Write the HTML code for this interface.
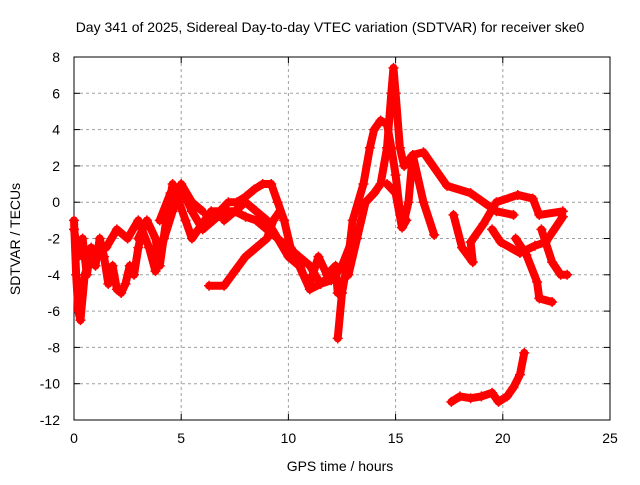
<!DOCTYPE html>
<html><head><meta charset="utf-8"><style>
body{margin:0;background:#fff}
svg text{font-family:"Liberation Sans",sans-serif;font-size:14px;fill:#000}
</style></head><body>
<svg id="chart" width="640" height="480" viewBox="0 0 640 480" xmlns="http://www.w3.org/2000/svg">
<rect width="640" height="480" fill="#fff"/>
<text x="330" y="32" text-anchor="middle">Day 341 of 2025, Sidereal Day-to-day VTEC variation (SDTVAR) for receiver ske0</text>
<text x="340" y="471" text-anchor="middle">GPS time / hours</text>
<text x="20" y="239" text-anchor="middle" transform="rotate(-90 20 239)">SDTVAR / TECUs</text>
<g id="grid"></g><g id="axes"></g><g id="marks"></g>
</svg>
<script>
const xTicks=[0,5,10,15,20,25];
const yTicks=[8,6,4,2,0,-2,-4,-6,-8,-10,-12];
const t1h=[0,0.2,0.4,0.6,0.8,1.0,1.2,1.4,1.6,1.8,2.0,2.2,2.4,2.6,2.8,3.0,3.2];
const t1v=[-1.5,-3,-2,-4,-2.5,-3.5,-2,-3,-4.5,-3.5,-4.8,-5,-4.5,-3.5,-4,-2.5,-1.5];
const t2h=[3.0,3.4,3.8,4.0,4.3,4.6,4.9,5.2,5.5,5.8,6.1,6.4,6.8,7.2,7.6,8.0,8.4,8.8,9.2,9.5,9.8,10.1,10.4,10.7,11.0,11.4,11.8,12.2,12.3];
const t2v=[-2,-1,-2,-3.5,-1,1,0,-1,-2,-1.5,-1,-0.5,-0.5,0,0,0.3,0.7,1,1,0,-1,-2.5,-3,-4,-4.5,-3,-4,-3.5,-5];
const t3h=[4.0,4.5,5.0,5.5,6.0,6.5,7.0,7.5,8.0,8.5,9.0,9.5,10.0,10.5,11.0,11.5,12.0];
const t3v=[-1,0.5,0.8,-0.5,-1.5,-1,-0.5,-0.5,-0.8,-1,-1.5,-2,-2.5,-3,-3.5,-4.5,-4];
const t4h=[6.3,7.0,7.5,8.0,8.5,9.0,9.3,9.6];
const t4v=[-4.6,-4.6,-3.8,-3,-2.5,-2,-1,-0.5];
const t5h=[12.3,12.5,12.8,13.0,13.5,13.8,14.0,14.3,14.6,14.8,15.0,15.2,15.4,15.6,15.8,16.3,17.4,18.5,19.7,20.5];
const t5v=[-7.5,-5,-3,-1,1,3,4,4.5,4.3,3,1.5,-0.5,-1,0,2.6,2.75,0.9,0.5,-0.5,-0.7];
const t6h=[12.8,13.2,13.6,14.0,14.3,14.6,14.8,14.9,15.0,15.2,15.4,15.8,16.3,16.8];
const t6v=[-4,-2,0,0.5,1,3,6,7.4,6,3,2,2.6,0,-1.8];
const t7h=[14.6,15.0,15.3,15.5];
const t7v=[1,0.5,-1.4,-1];
const t8h=[17.7,18.1,18.6,18.5,19.1,19.7,20.7,21.4,21.7,22.8];
const t8v=[-0.7,-2.5,-3.3,-2.2,-1.2,0,0.4,0.2,-0.7,-0.5];
const t9h=[19.5,19.9,20.8,21.5,22.0,22.8];
const t9v=[-1.5,-2.2,-2.8,-2.4,-2.2,-0.8];
const t10h=[20.6,21.1,21.6,21.7,22.3];
const t10v=[-2,-2.9,-4.4,-5.3,-5.5];
const t11h=[21.8,22.3,22.7,23.0];
const t11v=[-1.5,-3.3,-4,-4];
const t12h=[17.6,18.0,18.5,19.0,19.5,19.8,20.2,20.5,20.8,21.0];
const t12v=[-11,-10.7,-10.8,-10.7,-10.5,-11,-10.7,-10.2,-9.5,-8.3];
const t13h=[1.5,2.0,2.5,3.0,3.5,3.8,4.2,4.6,5.0,5.5,6.0];
const t13v=[-2.5,-1.5,-2,-1,-2.5,-3.8,-2,-0.5,1,0,-0.5];
const t14h=[7.0,7.5,8.0,8.5,9.0,9.5,10.0,10.5,11.0,11.5,12.0,12.5,13.0];
const t14v=[-1,-0.5,0,-0.5,-1,-2,-3,-3.5,-4.8,-4.5,-4.3,-3.5,-2];
const t15h=[0,0.1,0.2,0.3,0.5,0.8];
const t15v=[-1,-4,-6,-6.5,-4,-3];
const tracks=[[t1h,t1v],[t2h,t2v],[t3h,t3v],[t4h,t4v],[t5h,t5v],[t6h,t6v],[t7h,t7v],[t8h,t8v],[t9h,t9v],[t10h,t10v],[t11h,t11v],[t12h,t12v],[t13h,t13v],[t14h,t14v],[t15h,t15v]];
const X0=74,X1=610,Y0=57,Y1=420;
const X=h=>X0+h/25*(X1-X0);
const Y=v=>Y0+(8-v)/20*(Y1-Y0);
const NS="http://www.w3.org/2000/svg";
function mk(tag,attrs,parent){const e=document.createElementNS(NS,tag);for(const k in attrs)e.setAttribute(k,attrs[k]);parent.appendChild(e);return e;}
const grid=document.getElementById('grid'),axes=document.getElementById('axes'),marks=document.getElementById('marks');
xTicks.forEach(t=>{
 if(t>0&&t<25){const g=mk('line',{x1:X(t),x2:X(t),y1:Y0,y2:Y1,stroke:'#a0a0a0','stroke-dasharray':'3,3'},grid);
 
 }
 const l=mk('text',{x:X(t),y:443,'text-anchor':'middle'},axes);l.textContent=t;
 
 
 mk('line',{x1:X(t),x2:X(t),y1:Y1,y2:Y1-6,stroke:'#000'},axes);
 mk('line',{x1:X(t),x2:X(t),y1:Y0,y2:Y0+6,stroke:'#000'},axes);
});
yTicks.forEach(t=>{
 if(t<8&&t>-12){const g=mk('line',{x1:X0,x2:X1,y1:Y(t),y2:Y(t),stroke:'#a0a0a0','stroke-dasharray':'3,3'},grid);
 
 }
 const l=mk('text',{x:X0-14,y:Y(t)+5,'text-anchor':'end'},axes);l.textContent=t;
 
 
 mk('line',{x1:X0,x2:X0+6,y1:Y(t),y2:Y(t),stroke:'#000'},axes);
 mk('line',{x1:X1,x2:X1-6,y1:Y(t),y2:Y(t),stroke:'#000'},axes);
});
const frame=mk('rect',{x:X0,y:Y0,width:X1-X0,height:Y1-Y0,fill:'none',stroke:'#000'},axes);


tracks.forEach(([hs,vs],i)=>{
 const pts=hs.map((h,j)=>X(h)+','+Y(vs[j])).join(' ');
 const pl=mk('polyline',{points:pts,fill:'none',stroke:'#ff0000','stroke-width':8,'stroke-linejoin':'round','stroke-linecap':'round'},marks);
 
 
 hs.forEach((h,j)=>{
  const p=mk('path',{d:`M${X(h)-5},${Y(vs[j])}h10M${X(h)},${Y(vs[j])-5}v10`,stroke:'#ff0000','stroke-width':1.5},marks);
  
  
 });
});
</script>
</body></html>
